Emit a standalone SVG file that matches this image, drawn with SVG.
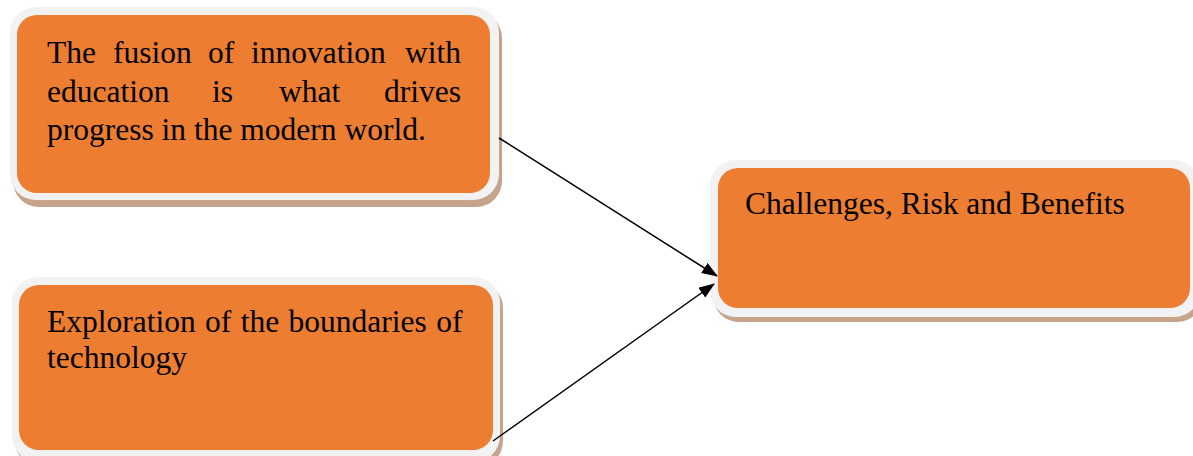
<svg xmlns="http://www.w3.org/2000/svg" width="1193" height="456" viewBox="0 0 1193 456">
<style>
.sh{fill:#c6a48c}
.out{fill:#f2f2f2}
.in{fill:#ed7d31}
text{font-family:"Liberation Serif","Times New Roman",serif;font-size:31.5px;fill:#000}
.e{text-anchor:end}
.conn line{stroke:#000;stroke-width:1.5}
</style>
<defs>
<marker id="ah" markerWidth="16" markerHeight="12" refX="15" refY="6" orient="auto" markerUnits="userSpaceOnUse">
<path d="M0,0 L16,6 L0,12 Z" fill="#000"/>
</marker>
</defs>
<rect width="1193" height="456" fill="#fff"/>
<g id="node-fusion">
<rect class="sh" x="13" y="12" width="489" height="195" rx="26"/>
<rect class="out" x="10" y="7" width="489" height="193" rx="26"/>
<rect class="in" x="17" y="15" width="473" height="178" rx="20"/>
<text x="47" y="63">The</text>
<text x="113" y="63">fusion</text>
<text x="208" y="63">of</text>
<text x="251" y="63">innovation</text>
<text class="e" x="461" y="63">with</text>
<text x="47" y="101.5">education</text>
<text x="212" y="101.5">is</text>
<text x="279" y="101.5">what</text>
<text class="e" x="461" y="101.5">drives</text>
<text x="47" y="140">progress in the modern world.</text>
</g>
<g id="node-exploration">
<rect class="sh" x="15" y="282" width="488" height="185" rx="26"/>
<rect class="out" x="12" y="277" width="488" height="185" rx="26"/>
<rect class="in" x="19" y="285" width="474" height="165" rx="20"/>
<text x="47" y="332" word-spacing="1.5">Exploration of the boundaries of</text>
<text x="47" y="368">technology</text>
</g>
<g id="node-challenges">
<rect class="sh" x="713" y="165" width="490" height="157" rx="26"/>
<rect class="out" x="710" y="160" width="490" height="157" rx="26"/>
<rect class="in" x="718" y="168" width="472" height="140" rx="20"/>
<text x="745" y="214">Challenges, Risk and Benefits</text>
</g>
<g class="conn" id="connectors">
<line x1="499" y1="138" x2="717" y2="276" marker-end="url(#ah)"/>
<line x1="493" y1="441" x2="714" y2="284" marker-end="url(#ah)"/>
</g>
</svg>
